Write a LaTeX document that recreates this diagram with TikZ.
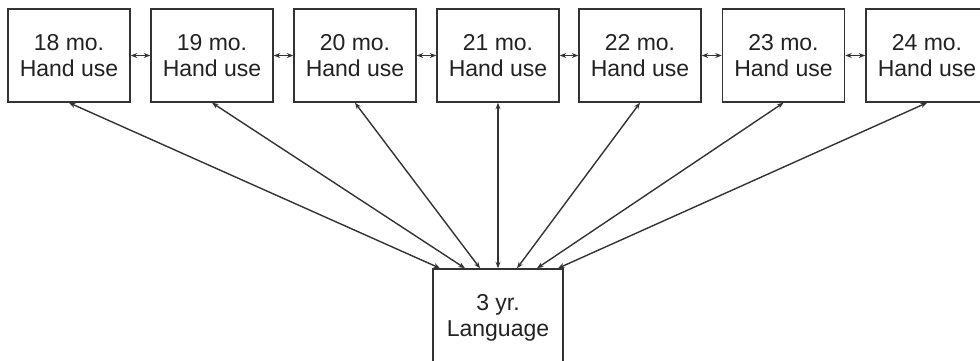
\documentclass[tikz,border=0pt]{standalone}
\usepackage{fontspec}
\setmainfont{Liberation Sans}
\usetikzlibrary{arrows.meta}
\definecolor{linec}{HTML}{333333}
\definecolor{textc}{HTML}{222222}
\tikzset{
  mobox/.style={draw=linec, line width=1.5pt, rectangle, minimum width=122pt, minimum height=93pt,
    align=center, font=\fontsize{23}{26}\selectfont, text=textc, inner sep=0pt},
  langbox/.style={mobox, minimum width=130pt, minimum height=97pt},
  link/.style={draw=linec, line width=1.4pt, {Stealth[length=6.5pt,width=5pt]}-{Stealth[length=6.5pt,width=5pt]}}
}
\begin{document}
\begin{tikzpicture}[x=1pt,y=-1pt]
\useasboundingbox (0,0) rectangle (980,360);
\begin{scope}
\clip (0,0) rectangle (980,360);
\node[mobox] (m18) at (69,55.5) {18 mo.\\Hand use};
\node[mobox] (m19) at (212,55.5) {19 mo.\\Hand use};
\node[mobox] (m20) at (355,55.5) {20 mo.\\Hand use};
\node[mobox] (m21) at (498,55.5) {21 mo.\\Hand use};
\node[mobox] (m22) at (640,55.5) {22 mo.\\Hand use};
\node[mobox] (m23) at (783.5,55.5) {23 mo.\\Hand use};
\node[mobox] (m24) at (927,55.5) {24 mo.\\Hand use};
\node[langbox] (lang) at (498,317.5) {3 yr.\\Language};
\end{scope}
\draw[link] (m18.east) -- (m19.west);
\draw[link] (m19.east) -- (m20.west);
\draw[link] (m20.east) -- (m21.west);
\draw[link] (m21.east) -- (m22.west);
\draw[link] (m22.east) -- (m23.west);
\draw[link] (m23.east) -- (m24.west);
\coordinate (b1) at ([xshift=-58pt]lang.north);
\coordinate (b2) at ([xshift=-33pt]lang.north);
\coordinate (b3) at ([xshift=-18pt]lang.north);
\coordinate (b4) at (lang.north);
\coordinate (b5) at ([xshift=19pt]lang.north);
\coordinate (b6) at ([xshift=39pt]lang.north);
\coordinate (b7) at ([xshift=60pt]lang.north);
\draw[link] (m18.south) -- (b1);
\draw[link] (m19.south) -- (b2);
\draw[link] (m20.south) -- (b3);
\draw[link] (m21.south) -- (b4);
\draw[link] (m22.south) -- (b5);
\draw[link] (m23.south) -- (b6);
\draw[link] (m24.south) -- (b7);
\end{tikzpicture}
\end{document}
